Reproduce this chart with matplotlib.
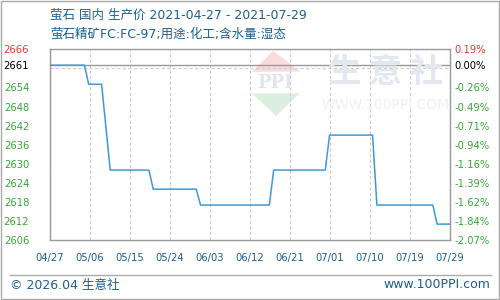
import matplotlib
matplotlib.use("Agg")
import matplotlib.pyplot as plt
import matplotlib.dates as mdates
from matplotlib.patches import Polygon, Rectangle
from matplotlib.lines import Line2D
from datetime import datetime

plt.rcParams['font.family'] = ['Noto Sans CJK SC', 'DejaVu Sans']
MIX = ['DejaVu Sans', 'Noto Sans CJK SC']

# ---- data ----
dates = ["2021-04-27", "2021-05-05", "2021-05-06", "2021-05-09", "2021-05-11",
         "2021-05-20", "2021-05-21", "2021-05-31", "2021-06-01", "2021-06-17",
         "2021-06-18", "2021-06-30", "2021-07-01", "2021-07-11", "2021-07-12",
         "2021-07-25", "2021-07-26", "2021-07-29"]
prices = [2661, 2661, 2655, 2655, 2628,
          2628, 2622, 2622, 2617, 2617,
          2628, 2628, 2639, 2639, 2617,
          2617, 2611, 2611]
base_price = 2661
x_labels = ["04/27", "05/06", "05/15", "05/24", "06/03", "06/12",
            "06/21", "07/01", "07/10", "07/19", "07/29"]
y_ticks = [2666, 2661, 2654, 2648, 2642, 2636, 2630, 2624, 2618, 2612, 2606]
pct_labels = ["0.19%", "0.00%", "-0.26%", "-0.49%", "-0.71%", "-0.94%",
              "-1.16%", "-1.39%", "-1.62%", "-1.84%", "-2.07%"]
title = "萤石 国内 生产价 2021-04-27 - 2021-07-29"
subtitle = "萤石精矿FC:FC-97;用途:化工;含水量:湿态"

BLUE_TXT = '#1c5f8e'
RED = '#ee3333'
GREEN = '#33aa33'
LINE = '#3d9ad8'

fig = plt.figure(figsize=(5, 3), dpi=100)
ax = fig.add_axes([0.1, 0.2, 0.8, 0.6357])

xd = [datetime.strptime(d, "%Y-%m-%d") for d in dates]
ax.plot(xd, prices, color=LINE, lw=1.1, zorder=5)

x0 = mdates.date2num(xd[0]); x1 = mdates.date2num(xd[-1])
ax.set_xlim(x0, x1)
ax.set_ylim(y_ticks[-1], y_ticks[0])

ticks_x = [x0 + i * (x1 - x0) / (len(x_labels) - 1) for i in range(len(x_labels))]
ax.set_xticks(ticks_x)
ax.set_xticklabels(x_labels, fontsize=7.2, color=BLUE_TXT, family='DejaVu Sans')
ax.tick_params(axis='x', length=0, pad=9)

ax.set_yticks(y_ticks)
ax.set_yticklabels([str(v) for v in y_ticks], fontsize=7.2, family='DejaVu Sans')
ax.tick_params(axis='y', length=0, pad=15)
for t, v in zip(ax.get_yticklabels(), y_ticks):
    t.set_color(RED if v > base_price else ('black' if v == base_price else GREEN))
    t.set_horizontalalignment('right')

grid_vals = list(range(y_ticks[-1] + 6, y_ticks[0], 6))
ax.set_yticks(grid_vals, minor=True)
ax.tick_params(axis='y', which='minor', length=0)
ax.yaxis.grid(True, which='minor', color='#cccccc', ls=(0, (3, 2)), lw=0.8)
ax.xaxis.grid(True, which='major', color='#cccccc', ls=(0, (3, 2)), lw=0.8)
ax.yaxis.grid(False, which='major')
ax.axhline(base_price, color='#999999', lw=1.0, zorder=3)
for s in ax.spines.values():
    s.set_color('#999999'); s.set_linewidth(1.0)

ax2 = ax.twinx()
ax2.set_ylim(ax.get_ylim())
ax2.set_yticks(y_ticks)
ax2.set_yticklabels(pct_labels, fontsize=7.2, family='DejaVu Sans')
ax2.tick_params(axis='y', length=0, pad=3)
for t, v in zip(ax2.get_yticklabels(), y_ticks):
    t.set_color(RED if v > base_price else ('black' if v == base_price else GREEN))
for s in ax2.spines.values():
    s.set_visible(False)

# watermark
ax.add_patch(Polygon([(251.7/500, 1-71.7/300), (273.3/500, 1-51/300), (300/500, 1-71.7/300)],
                     closed=True, transform=fig.transFigure, facecolor='#f8dcdc', edgecolor='none', zorder=1))
ax.add_patch(Polygon([(251.7/500, 1-93.3/300), (276/500, 1-115.7/300), (300/500, 1-93.3/300)],
                     closed=True, transform=fig.transFigure, facecolor='#dcefdf', edgecolor='none', zorder=1))
fig.text(275/500, 1-83.5/300, "PPI", fontsize=13, color='#e0e5ef', ha='center', va='center',
         family='DejaVu Serif', fontweight='bold', zorder=1)
fig.text(386/500, 1-72.5/300, "生 意 社", fontsize=24, color='#e3e7f0', ha='center', va='center',
         fontweight='bold', zorder=1)
fig.text(386/500, 1-105/300, "WWW.100PPI.COM", fontsize=10, color='#f0f0f0', ha='center', va='center',
         family='DejaVu Sans', zorder=1)

# titles
fig.text(50/500, 1-15/300, title, fontsize=9, color=BLUE_TXT, ha='left', va='center', family=MIX)
fig.text(50/500, 1-34.5/300, subtitle, fontsize=9, color=BLUE_TXT, ha='left', va='center', family=MIX)

# footer
fig.add_artist(Line2D([10/500, 491/500], [1-275/300, 1-275/300], transform=fig.transFigure,
                      color='#aaaaaa', lw=1))
fig.text(10/500, 1-285/300, "© 2026.04 生意社", fontsize=9, color=BLUE_TXT, ha='left', va='center',
         family=MIX)
fig.text(490/500, 1-285/300, "www.100PPI.com", fontsize=9, color=BLUE_TXT, ha='right', va='center',
         family='DejaVu Sans')
fig.add_artist(Rectangle((0.001, 0.002), 0.997, 0.995, transform=fig.transFigure, fill=False,
                         edgecolor='#aaaaaa', lw=1))

fig.savefig("out.png", dpi=100)
